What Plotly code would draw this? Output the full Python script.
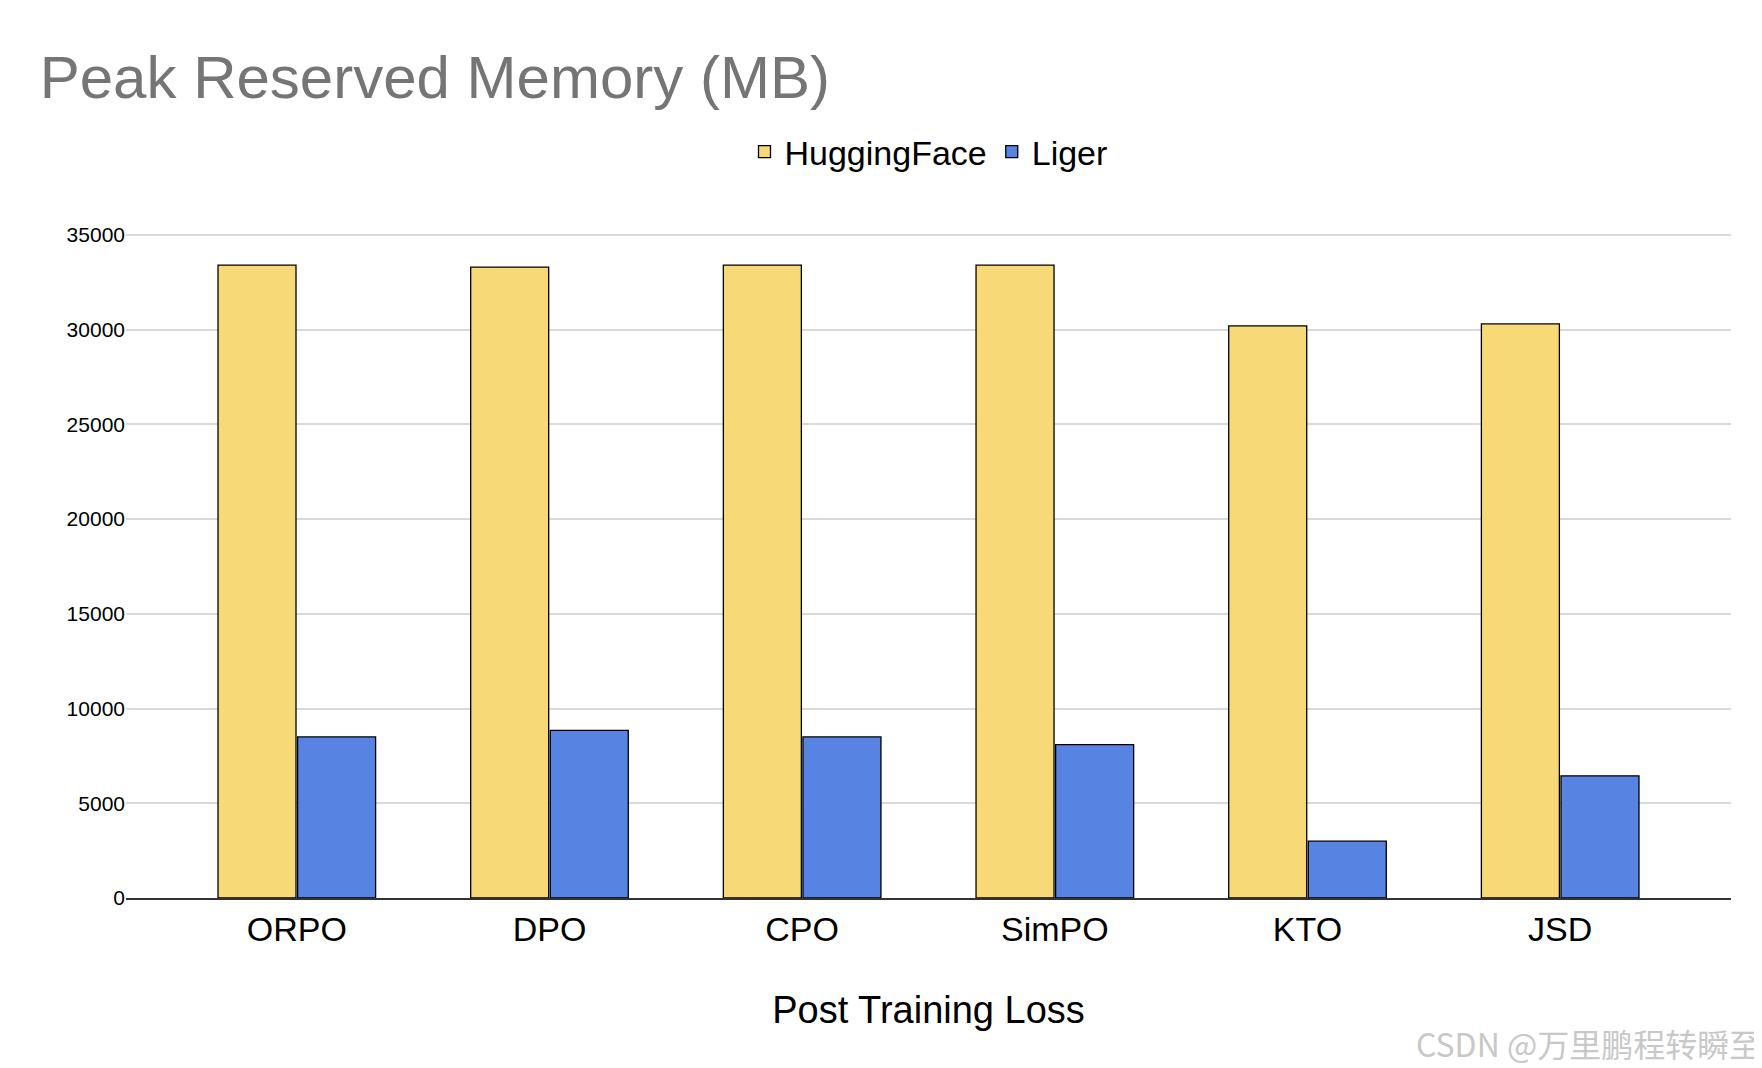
import plotly.graph_objects as go

losses = ["ORPO", "DPO", "CPO", "SimPO", "KTO", "JSD"]
huggingface = [33400, 33300, 33400, 33400, 30200, 30300]
liger = [8500, 8850, 8500, 8100, 3000, 6450]

fig = go.Figure()
fig.add_trace(go.Bar(x=losses, y=huggingface, name="HuggingFace",
                     marker=dict(color="#f7d977", line=dict(color="black", width=1.3))))
fig.add_trace(go.Bar(x=losses, y=liger, name="Liger",
                     marker=dict(color="#5784e3", line=dict(color="black", width=1.3))))

fig.update_layout(
    width=1762, height=1068,
    paper_bgcolor="white", plot_bgcolor="white",
    font=dict(family="Liberation Sans, Arial", color="black"),
    title=dict(text="Peak Reserved Memory (MB)", x=0.018, y=0.955, xanchor="left",
               font=dict(size=60, color="#757575")),
    margin=dict(l=118, r=39, t=224, b=178),
    barmode="group", bargap=0.37, bargroupgap=0.02,
    legend=dict(orientation="h", x=0.5, xanchor="center", y=1.12, yanchor="middle",
                font=dict(size=34), itemwidth=30),
    showlegend=True,
)
fig.update_xaxes(title=dict(text="Post Training Loss", font=dict(size=38), standoff=50),
                 range=[-0.676, 5.676],
                 tickfont=dict(size=34), showline=True, linecolor="#333", linewidth=1.5)
fig.update_yaxes(range=[0, 35150], dtick=5000, tickformat="d", tickfont=dict(size=21),
                 gridcolor="#d9d9d9", gridwidth=1.5, zeroline=False, ticks="", ticklen=10,
                 tickcolor="white")
fig.add_annotation(text="CSDN @万里鹏程转瞬至", xref="paper", yref="paper", x=1.02, y=-0.255,
                   xanchor="right", showarrow=False,
                   font=dict(size=32, color="#c8c8c8", family="Noto Sans CJK SC"))
fig.write_html("out.html")
